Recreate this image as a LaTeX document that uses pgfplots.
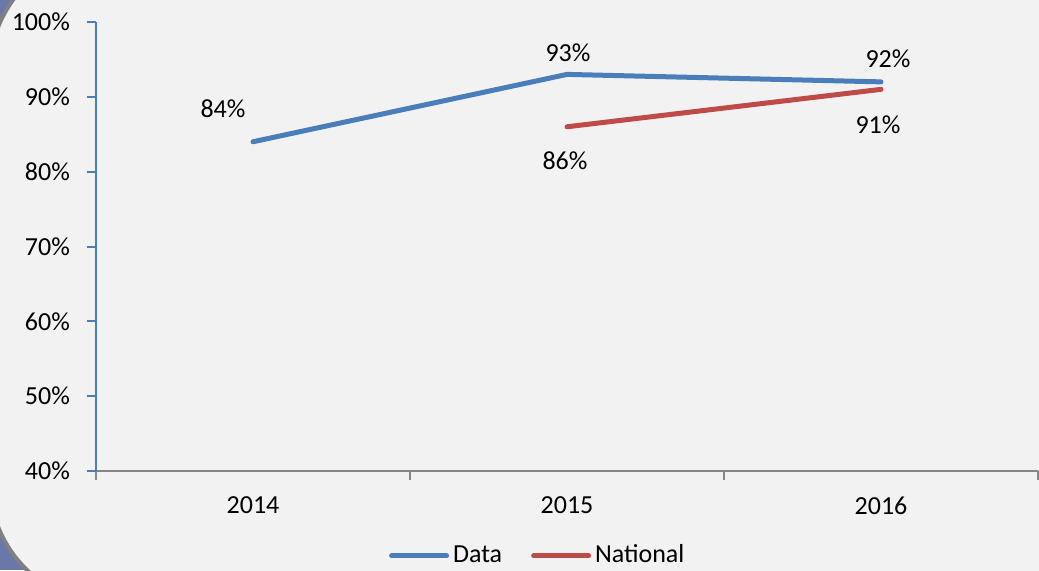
\documentclass[border=0pt]{standalone}
\usepackage{pgfplots}
\pgfplotsset{compat=1.18}
\usepackage{fontspec}
\setmainfont{Carlito}
\definecolor{bg}{HTML}{F2F2F2}
\definecolor{frameblue}{HTML}{6A77A8}
\definecolor{framegray}{HTML}{808080}
\definecolor{databl}{HTML}{4A7EBB}
\definecolor{natred}{HTML}{BE4B48}
\definecolor{axgray}{HTML}{868686}
\begin{document}
\fontsize{13pt}{15.6pt}\selectfont
\begin{tikzpicture}
% background and frame
\fill[frameblue] (0,0) rectangle (519.5pt,285pt);
\draw[framegray, line width=2pt, fill=bg, rounded corners=60pt] (-5pt,-16.65pt) rectangle (560pt,309.7pt);
\begin{axis}[
  at={(48pt,49.5pt)}, anchor=south west,
  width=471pt, height=224.5pt, scale only axis,
  xmin=-0.5, xmax=2.5, ymin=40, ymax=100,
  axis x line*=bottom, axis y line*=left,
  x axis line style={axgray, line width=1pt, -},
  y axis line style={databl, line width=1pt, -},
  xtick={0,1,2}, xticklabels={2014,2015,2016},
  minor xtick={-0.5,0.5,1.5,2.5},
  major x tick style={draw=none},
  minor x tick style={axgray, line width=1pt},
  ytick={40,50,60,70,80,90,100},
  yticklabel={\pgfmathprintnumber{\tick}\%},
  y tick style={databl, line width=1pt},
  tick align=outside,
  major tick length=4.5pt, minor tick length=4.5pt,
  tick label style={font=\fontsize{13pt}{15.6pt}\selectfont},
  yticklabel style={xshift=-4pt},
  xticklabel style={yshift=-4pt},
  /pgf/number format/assume math mode=true,
  legend style={at={(0.47,-0.189)}, anchor=center, draw=none, fill=none,
    legend columns=2, font=\fontsize{13pt}{15.6pt}\selectfont,
    /tikz/every even column/.append style={column sep=12.5pt}},
  legend image code/.code={\draw[#1, line cap=round] (0pt,0pt) -- (27.5pt,0pt);},
  clip=false,
]
\addplot[databl, line width=2.5pt, line cap=round, line join=round] coordinates {(0,84) (1,93) (2,92)};
\addlegendentry{Data}
\addplot[natred, line width=2.5pt, line cap=round, line join=round] coordinates {(1,86) (2,91)};
\addlegendentry{National}
\node at (axis cs:0,84) [xshift=-15pt, yshift=16.5pt] {84\%};
\node at (axis cs:1,93) [xshift=0.5pt, yshift=11pt] {93\%};
\node at (axis cs:2,92) [xshift=3.5pt, yshift=11.5pt] {92\%};
\node at (axis cs:1,86) [xshift=-1pt, yshift=-17pt] {86\%};
\node at (axis cs:2,91) [xshift=-1.5pt, yshift=-17.5pt] {91\%};
\end{axis}
\pgfresetboundingbox
\path[use as bounding box] (0,0) rectangle (519.5pt,285pt);
\end{tikzpicture}
\end{document}
